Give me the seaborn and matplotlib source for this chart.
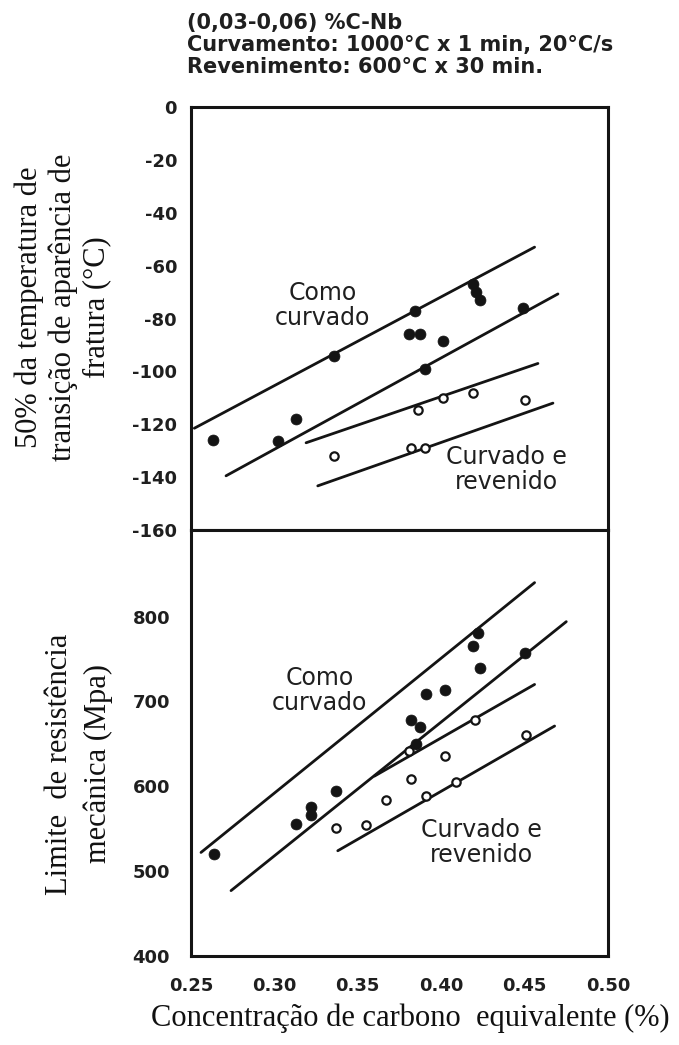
import matplotlib
matplotlib.use("Agg")
import matplotlib.pyplot as plt
import numpy as np
import pandas as pd
import seaborn as sns

# ---- data -------------------------------------------------------------
# Upper panel: 50% fracture-appearance transition temperature (°C)
temp_bent_x = [0.263, 0.302, 0.313, 0.336, 0.384, 0.381, 0.387, 0.401, 0.390,
               0.419, 0.421, 0.423, 0.449]
temp_bent_y = [-126, -126.5, -118, -94, -77, -86, -86, -88.5, -99,
               -67, -70, -73, -76]
temp_temp_x = [0.336, 0.382, 0.390, 0.386, 0.401, 0.419, 0.450]
temp_temp_y = [-132, -129, -129, -114.5, -110, -108, -110.8]

# trend lines (start/end) of the upper panel
temp_lines_x = [[0.252, 0.456], [0.271, 0.470], [0.319, 0.458], [0.326, 0.467]]
temp_lines_y = [[-121.5, -53], [-139.5, -70.7], [-127, -97], [-143.3, -112]]

# Lower panel: tensile strength (MPa)
uts_bent_x = [0.264, 0.313, 0.322, 0.322, 0.337, 0.382, 0.387, 0.385, 0.391,
              0.402, 0.419, 0.422, 0.423, 0.450]
uts_bent_y = [520, 555, 576, 566, 594, 678, 670, 650, 709, 714, 765, 781, 739, 757]
uts_temp_x = [0.337, 0.355, 0.367, 0.382, 0.381, 0.402, 0.391, 0.409, 0.420, 0.451]
uts_temp_y = [551, 554, 584, 609, 641, 636, 588, 605, 678, 660]

uts_lines_x = [[0.256, 0.456], [0.274, 0.475], [0.360, 0.456], [0.338, 0.468]]
uts_lines_y = [[522, 840], [477, 794], [612, 720], [524, 671]]

x_ticks = [0.25, 0.30, 0.35, 0.40, 0.45, 0.50]
temp_ticks = [0, -20, -40, -60, -80, -100, -120, -140, -160]
uts_ticks = [400, 500, 600, 700, 800]

title_lines = ["(0,03-0,06) %C-Nb",
               "Curvamento: 1000°C x 1 min, 20°C/s",
               "Revenimento: 600°C x 30 min."]

# ---- style ------------------------------------------------------------
sns.set_theme(style="white")
plt.rcParams["font.family"] = ["DejaVu Sans"]
plt.rcParams["axes.unicode_minus"] = False

INK = "#141414"
TXT = "#1f1f1f"

fig = plt.figure(figsize=(6.79, 10.45), dpi=100)
fig.patch.set_facecolor("white")
ax1 = fig.add_axes([0.2813, 0.4928, 0.6141, 0.4048])
ax2 = fig.add_axes([0.2813, 0.0852, 0.6141, 0.4076])


def draw_panel(ax, bx, by, tx, ty, lx, ly):
    for xs, ys in zip(lx, ly):
        seg = pd.DataFrame({"x": xs, "y": ys})
        sns.lineplot(data=seg, x="x", y="y", ax=ax, color=INK, lw=2.0,
                     estimator=None, sort=False, legend=False)
    sns.scatterplot(x=bx, y=by, ax=ax, color=INK, s=62, edgecolor=INK,
                    linewidth=0.5, zorder=5, legend=False)
    sns.scatterplot(x=tx, y=ty, ax=ax, facecolor="white", edgecolor=INK,
                    s=36, linewidth=1.6, zorder=5, legend=False)
    for sp in ax.spines.values():
        sp.set_visible(True)
        sp.set_color(INK)
        sp.set_linewidth(2.2)
    ax.set_xlim(0.25, 0.50)
    ax.set_xticks(x_ticks)
    ax.set_xlabel("")
    ax.set_ylabel("")
    ax.tick_params(direction="in", length=7, width=1.8, colors=INK,
                   labelcolor=TXT, labelsize=13)
    ax.set_facecolor("white")


draw_panel(ax1, temp_bent_x, temp_bent_y, temp_temp_x, temp_temp_y,
           temp_lines_x, temp_lines_y)
draw_panel(ax2, uts_bent_x, uts_bent_y, uts_temp_x, uts_temp_y,
           uts_lines_x, uts_lines_y)

ax1.set_ylim(-160, 0)
ax1.set_yticks(temp_ticks)
ax1.set_yticklabels([str(v) for v in temp_ticks], fontweight="bold")
ax1.tick_params(axis="x", labelbottom=False)
ax1.tick_params(axis="y", pad=10)

ax2.set_ylim(400, 902)
ax2.set_yticks(uts_ticks)
ax2.set_yticklabels([str(v) for v in uts_ticks], fontweight="bold")
ax2.set_xticklabels([f"{v:.2f}" for v in x_ticks], fontweight="bold")
ax2.tick_params(axis="y", pad=15)
ax2.tick_params(axis="x", pad=15)

# curve annotations
ann = dict(ha="center", va="center", multialignment="center",
           fontsize=17, color=TXT, linespacing=1.05)
ax1.text(0.329, -75, "Como\ncurvado", **ann)
ax1.text(0.439, -137, "Curvado e\nrevenido", **ann)
ax2.text(0.327, 713, "Como\ncurvado", **ann)
ax2.text(0.424, 534, "Curvado e\nrevenido", **ann)

# heading block
fig.text(0.275, 0.988, "\n".join(title_lines), ha="left", va="top",
         fontsize=15, fontweight="bold", color=TXT, linespacing=1.15)

# axis titles
serif = ["Liberation Serif", "DejaVu Serif"]
fig.text(0.0928, 0.706,
         "50% da temperatura de\ntransição de aparência de\nfratura (°C)",
         rotation=90, ha="center", va="center", multialignment="center",
         fontsize=22, family=serif, color="#111111", linespacing=1.2)
fig.text(0.1163, 0.269, "Limite  de resistência\nmecânica (Mpa)",
         rotation=90, ha="center", va="center", multialignment="center",
         fontsize=22, family=serif, color="#111111", linespacing=1.4)
fig.text(0.604, 0.026, "Concentração de carbono  equivalente (%)",
         ha="center", va="center", fontsize=22, family=serif, color="#111111")

fig.savefig("out.png", dpi=100, facecolor="white")
